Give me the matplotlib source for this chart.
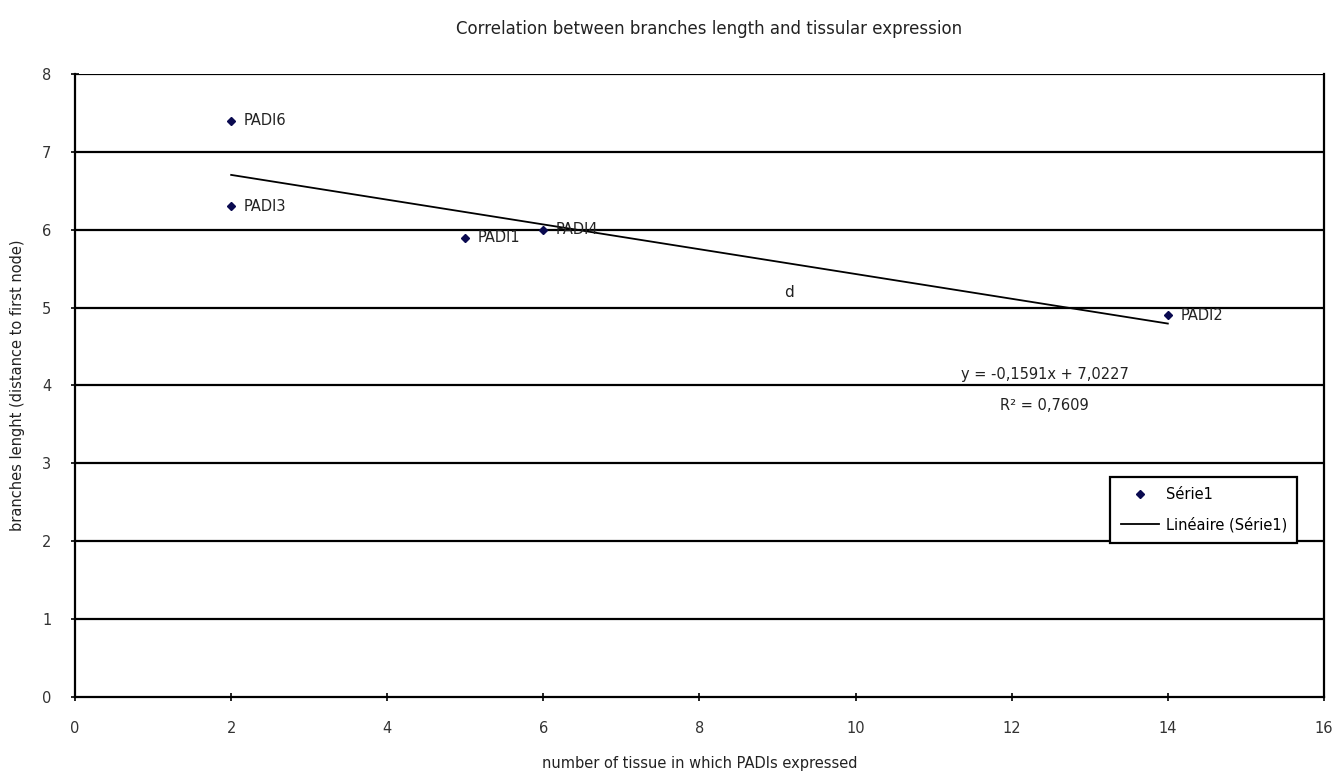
import matplotlib
matplotlib.use("Agg")
import matplotlib.pyplot as plt
import numpy as np

plt.rcParams['font.family'] = ['DejaVu Sans']

# Data
names = ["PADI6", "PADI3", "PADI1", "PADI4", "PADI2"]
tissues = [2, 2, 5, 6, 14]
branch_len = [7.4, 6.3, 5.9, 6.0, 4.9]
x_ticks = [0, 2, 4, 6, 8, 10, 12, 14, 16]
y_ticks = [0, 1, 2, 3, 4, 5, 6, 7, 8]
equation = "y = -0,1591x + 7,0227"
r2_text = "R² = 0,7609"

txt = '#222222'

fig = plt.figure(figsize=(13.33, 7.72), dpi=100)
ax = fig.add_axes([0.0563, 0.0972, 0.9369, 0.8069])

ax.set_xlim(0, 16)
ax.set_ylim(0, 8)
ax.set_xticks(x_ticks)
ax.set_yticks(y_ticks)

for yv in y_ticks[1:]:
    ax.axhline(yv, color='black', lw=1.6, zorder=1)

# Trendline
slope, intercept = np.polyfit(tissues, branch_len, 1)
xf = np.array([min(tissues), max(tissues)])
ax.plot(xf, slope * xf + intercept, color='black', lw=1.3, zorder=2,
        label="Linéaire (Série1)")

ax.plot(tissues, branch_len, linestyle='none', marker='D', markersize=4.5,
        color='#0a0a50', zorder=3, label="Série1")

for n, x, y in zip(names, tissues, branch_len):
    ax.annotate(n, (x, y), xytext=(9, 0), textcoords='offset points',
                va='center', ha='left', fontsize=10.5, color=txt)

ax.text(9.15, 5.19, "d", fontsize=11, ha='center', va='center', color=txt)
ax.text(12.42, 4.14, equation, fontsize=10.5, ha='center', va='center', color=txt)
ax.text(12.42, 3.74, r2_text, fontsize=10.5, ha='center', va='center', color=txt)

for s in ['left', 'bottom', 'right']:
    ax.spines[s].set_linewidth(1.6)
    ax.spines[s].set_color('black')
ax.spines['top'].set_visible(False)

ax.tick_params(axis='both', direction='inout', length=6, width=1.2,
               labelsize=10.5, colors='black', labelcolor='#333333')
ax.tick_params(axis='x', pad=14)
ax.tick_params(axis='y', pad=14)

ax.set_xlabel("number of tissue in which PADIs expressed", fontsize=10.5,
              color=txt, labelpad=15)
ax.set_ylabel("branches lenght (distance to first node)", fontsize=10.5,
              color=txt, labelpad=12)
fig.text(0.532, 0.963, "Correlation between branches length and tissular expression",
         ha='center', va='center', fontsize=12, color=txt)

handles, labels = ax.get_legend_handles_labels()
leg = ax.legend([handles[1], handles[0]], [labels[1], labels[0]],
                loc='upper left', bbox_to_anchor=(0.829, 0.353),
                fancybox=False, framealpha=1, edgecolor='black',
                fontsize=10.5, borderaxespad=0, handlelength=2.6,
                labelspacing=1.0, borderpad=0.7, handletextpad=0.5)
leg.get_frame().set_linewidth(1.6)

fig.savefig("out.png", dpi=100)
